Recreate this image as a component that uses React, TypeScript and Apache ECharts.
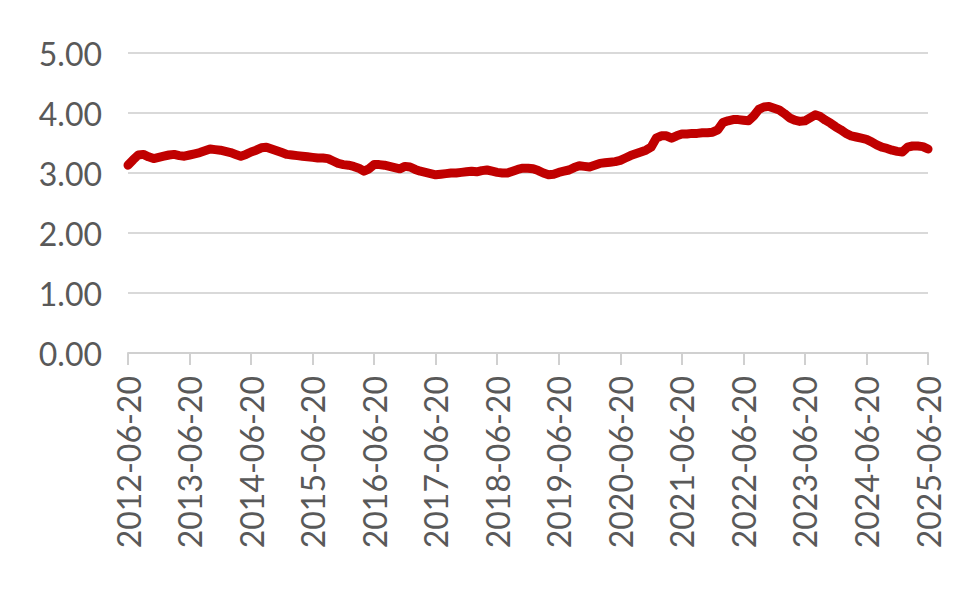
import React, { useEffect, useRef } from "react";
import * as echarts from "echarts";

const startYear = 2012;
const monthsCount = 157;

const values: number[] = [
  3.13, 3.22, 3.30, 3.31, 3.27, 3.24, 3.26, 3.28, 3.30, 3.31, 3.29, 3.28,
  3.30, 3.32, 3.34, 3.37, 3.40, 3.39, 3.38, 3.36, 3.34, 3.31, 3.28, 3.31,
  3.35, 3.38, 3.42, 3.43, 3.40, 3.37, 3.34, 3.31, 3.30, 3.29, 3.28, 3.27,
  3.26, 3.25, 3.25, 3.24, 3.20, 3.16, 3.14, 3.13, 3.11, 3.08, 3.03, 3.07,
  3.14, 3.14, 3.13, 3.11, 3.09, 3.07, 3.11, 3.10, 3.06, 3.03, 3.01, 2.99,
  2.97, 2.98, 2.99, 3.00, 3.00, 3.01, 3.02, 3.03, 3.02, 3.04, 3.05, 3.03,
  3.01, 3.00, 3.00, 3.03, 3.06, 3.08, 3.08, 3.07, 3.04, 3.00, 2.97, 2.98,
  3.01, 3.03, 3.05, 3.09, 3.12, 3.11, 3.10, 3.13, 3.16, 3.17, 3.18, 3.19,
  3.21, 3.25, 3.29, 3.32, 3.35, 3.38, 3.43, 3.58, 3.62, 3.62, 3.58, 3.62,
  3.65, 3.65, 3.66, 3.66, 3.67, 3.67, 3.68, 3.72, 3.84, 3.87, 3.89, 3.89,
  3.88, 3.87, 3.95, 4.06, 4.10, 4.11, 4.08, 4.05, 3.99, 3.92, 3.88, 3.86,
  3.87, 3.92, 3.97, 3.94, 3.88, 3.83, 3.77, 3.72, 3.66, 3.62, 3.60, 3.58,
  3.56, 3.52, 3.47, 3.43, 3.41, 3.38, 3.36, 3.35, 3.43, 3.45, 3.45, 3.44,
  3.40,
];

const categories: string[] = [];
for (let i = 0; i < monthsCount; i++) {
  const m = 5 + i; // June = index 5
  const y = startYear + Math.floor(m / 12);
  const mm = (m % 12) + 1;
  categories.push(`${y}-${String(mm).padStart(2, "0")}-20`);
}

const yTicks = { min: 0, max: 5, interval: 1 };

export default function App() {
  const ref = useRef<HTMLDivElement>(null);
  useEffect(() => {
    if (!ref.current) return;
    const chart = echarts.init(ref.current, null, { renderer: "svg" });
    chart.setOption({
      animation: false,
      backgroundColor: "#ffffff",
      grid: { left: 128, right: 52, top: 53, bottom: 244, containLabel: false },
      xAxis: {
        type: "category",
        data: categories,
        boundaryGap: false,
        axisLine: { show: true, lineStyle: { color: "#D0D0D0", width: 2 } },
        axisTick: { show: true, interval: 11, length: 12, lineStyle: { color: "#D0D0D0", width: 2 } },
        axisLabel: {
          interval: 11,
          rotate: 90,
          margin: 23,
          color: "#595959",
          fontFamily: "Lato",
          fontSize: 32,
        },
        splitLine: { show: false },
      },
      yAxis: {
        type: "value",
        min: yTicks.min,
        max: yTicks.max,
        interval: yTicks.interval,
        axisLine: { show: false },
        axisTick: { show: false },
        axisLabel: {
          margin: 26,
          color: "#595959",
          fontFamily: "Lato",
          fontSize: 32,
          formatter: (v: number) => v.toFixed(2),
        },
        splitLine: { show: true, lineStyle: { color: "#D9D9D9", width: 2 } },
      },
      series: [
        {
          type: "line",
          data: values,
          showSymbol: false,
          smooth: false,
          lineStyle: { color: "#C00000", width: 9, cap: "round", join: "round" },
        },
      ],
    });
    return () => chart.dispose();
  }, []);
  return (
    <div
      ref={ref}
      style={{ position: "fixed", left: 0, top: 0, width: 980, height: 597, background: "#fff" }}
    />
  );
}
